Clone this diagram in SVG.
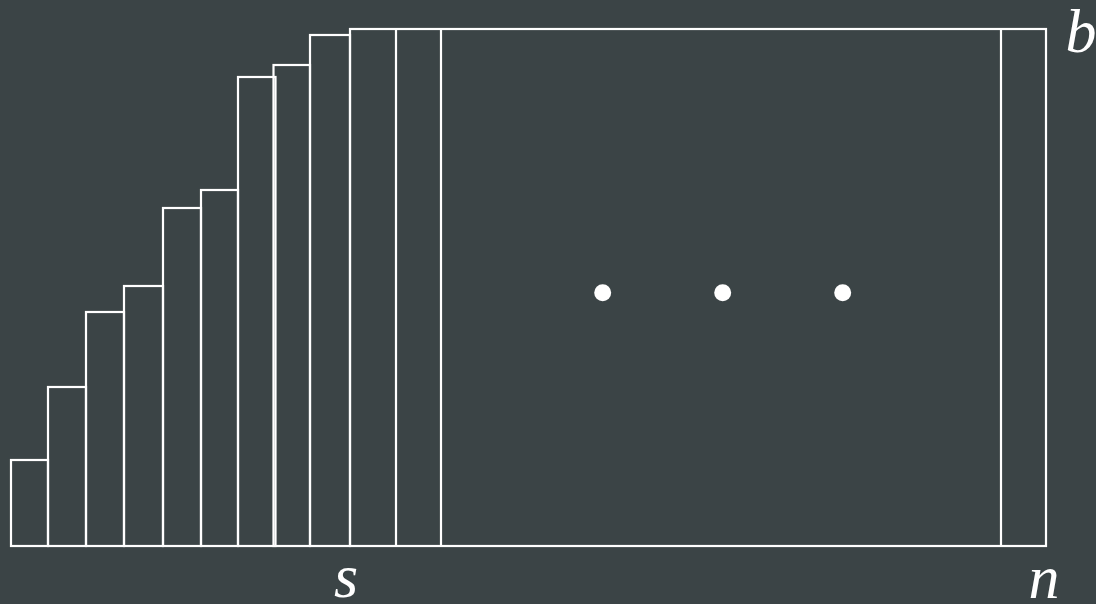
<svg xmlns="http://www.w3.org/2000/svg" width="1096" height="604" viewBox="0 0 1096 604">
<style>
.bar{fill:none;stroke:#ffffff;stroke-width:2.2}
.dot{fill:#ffffff}
</style>
<rect width="1096" height="604" fill="#3b4446"/>
<g id="bars">
<rect class="bar" x="11" y="460" width="37" height="86"/>
<rect class="bar" x="48" y="387" width="38" height="159"/>
<rect class="bar" x="86" y="312" width="38" height="234"/>
<rect class="bar" x="124" y="286" width="39" height="260"/>
<rect class="bar" x="163" y="208" width="38" height="338"/>
<rect class="bar" x="201" y="190" width="37" height="356"/>
<rect class="bar" x="238" y="77" width="37.5" height="469"/>
<rect class="bar" x="273.5" y="65" width="36.5" height="481"/>
<rect class="bar" x="310" y="35" width="40" height="511"/>
</g>
<g id="block">
<rect class="bar" x="350" y="29" width="696" height="517"/>
<line class="bar" x1="396" y1="29" x2="396" y2="546"/>
<line class="bar" x1="441" y1="29" x2="441" y2="546"/>
<line class="bar" x1="1001" y1="29" x2="1001" y2="546"/>
</g>
<g id="dots">
<circle class="dot" cx="602.7" cy="292.7" r="8.5"/>
<circle class="dot" cx="722.7" cy="292.7" r="8.5"/>
<circle class="dot" cx="842.7" cy="292.7" r="8.5"/>
</g>
<g id="labels" font-family="Liberation Serif, Times New Roman, serif" font-style="italic" font-size="62" fill="#ffffff" text-anchor="middle">
<text x="1081" y="52">b</text>
<text x="346" y="597">s</text>
<text x="1044" y="598">n</text>
</g>
</svg>
